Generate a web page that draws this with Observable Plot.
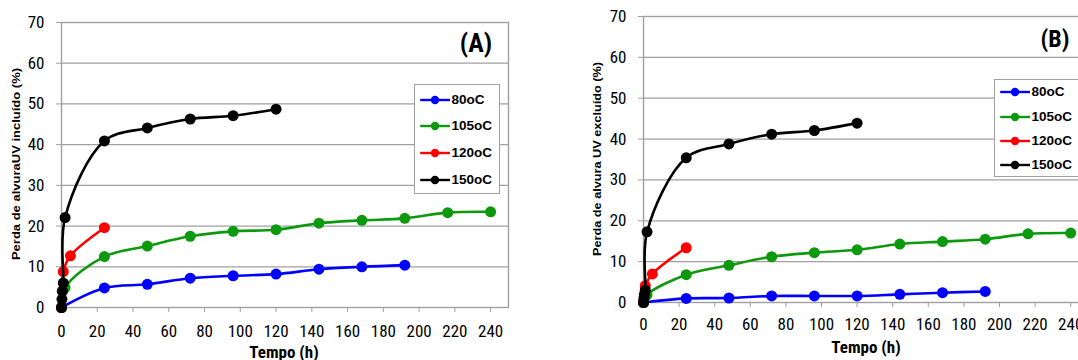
<!DOCTYPE html>
<html>
<head>
<meta charset="utf-8">
<script src="https://cdn.jsdelivr.net/npm/d3@7"></script>
<script src="https://cdn.jsdelivr.net/npm/@observablehq/plot@0.6"></script>
<style>
  html, body { margin: 0; padding: 0; background: #fff; }
  #wrap { position: relative; width: 1078px; height: 360px; overflow: hidden; background: #fff; }
  .panel { position: absolute; top: 0; }
  .xtitle { position: absolute; font-family: "Roboto Condensed", "Liberation Sans", sans-serif; font-weight: bold; font-size: 17px; line-height: 17px; white-space: nowrap; transform: translateX(-50%); color: #000; }
  .ytitle { position: absolute; font-family: "Liberation Sans", Arial, sans-serif; font-weight: bold; line-height: 1; white-space: nowrap; color: #000; transform: translate(-50%, -50%) scaleX(0.85) rotate(-90deg); }
  .tag { position: absolute; font-family: "Roboto Condensed", "Liberation Sans", sans-serif; font-weight: bold; line-height: 1; white-space: nowrap; color: #000; transform: translateX(-50%); }
  .legend { position: absolute; background: #fff; border: 1.5px solid #a0a0a0; box-sizing: border-box; }
  .legend .row { position: absolute; left: 0; height: 14px; }
  .legend .row svg { position: absolute; left: 0; top: 0; }
  .legend .row span { position: absolute; top: 0; font-family: "Liberation Sans", Arial, sans-serif; font-weight: bold; font-size: 13.5px; line-height: 14px; color: #000; white-space: nowrap; }
</style>
</head>
<body>
<div id="wrap"></div>
<script>
// ---- data ----
const seriesNames = ["80oC", "105oC", "120oC", "150oC"];
const seriesColors = ["#0000ff", "#0d990d", "#ff0000", "#000000"];
const xTicks = [0, 20, 40, 60, 80, 100, 120, 140, 160, 180, 200, 220, 240];
const yTicks = [0, 10, 20, 30, 40, 50, 60, 70];

// Panel A — Perda de alvuraUV incluído (%)
const tA80  = [0, 24, 48, 72, 96, 120, 144, 168, 192];
const vA80  = [0, 4.8, 5.7, 7.2, 7.8, 8.2, 9.4, 10.0, 10.4];
const tA105 = [0, 2, 24, 48, 72, 96, 120, 144, 168, 192, 216, 240];
const vA105 = [0, 4.9, 12.5, 15.1, 17.5, 18.7, 19.1, 20.7, 21.4, 21.9, 23.3, 23.5];
const tA120 = [0, 0.5, 1, 5, 24];
const vA120 = [0, 4.0, 8.8, 12.7, 19.6];
const tA150 = [0, 0.25, 0.5, 1, 2, 24, 48, 72, 96, 120];
const vA150 = [0, 2.0, 4.0, 6.0, 22.1, 40.9, 44.1, 46.3, 47.1, 48.7];

// Panel B — Perda de alvura UV excluído (%)
const tB80  = [0, 24, 48, 72, 96, 120, 144, 168, 192];
const vB80  = [0, 1.0, 1.1, 1.6, 1.6, 1.6, 2.0, 2.4, 2.7];
const tB105 = [0, 2, 24, 48, 72, 96, 120, 144, 168, 192, 216, 240];
const vB105 = [0, 1.9, 6.8, 9.1, 11.2, 12.2, 12.9, 14.3, 14.9, 15.5, 16.8, 17.0];
const tB120 = [0, 0.5, 1, 5, 24];
const vB120 = [0, 1.5, 4.1, 7.0, 13.4];
const tB150 = [0, 0.25, 0.5, 1, 2, 24, 48, 72, 96, 120];
const vB150 = [0, 1.0, 2.0, 3.0, 17.3, 35.4, 38.8, 41.2, 42.1, 43.9];

const titleA = "Perda de alvuraUV incluído (%)";
const titleB = "Perda de alvura UV excluído (%)";
const xTitle = "Tempo (h)";

// ---- helpers ----
function rows(name, ts, vs) { return ts.map((t, i) => ({s: name, t, v: vs[i]})); }
const dataA = [rows("80oC", tA80, vA80), rows("105oC", tA105, vA105), rows("120oC", tA120, vA120), rows("150oC", tA150, vA150)];
const dataB = [rows("80oC", tB80, vB80), rows("105oC", tB105, vB105), rows("120oC", tB120, vB120), rows("150oC", tB150, vB150)];

const gridColor = "#a0a0a0";
const tickFont = '"Roboto Condensed", "Liberation Sans", sans-serif';

function panel(data, o) {
  const marks = [
    Plot.gridY([10, 20, 30, 40, 50, 60], {stroke: gridColor, strokeOpacity: 1, strokeWidth: 1.3}),
    Plot.frame({stroke: gridColor, strokeWidth: 1.4}),
    Plot.axisX(xTicks, {tickSize: 5, tickPadding: o.xPad, stroke: gridColor, strokeOpacity: 1, fill: "#000", label: null}),
    Plot.axisY(yTicks, {tickSize: 5, tickPadding: 12, stroke: gridColor, strokeOpacity: 1, fill: "#000", label: null})
  ];
  for (const d of data) {
    marks.push(Plot.line(d, {x: "t", y: "v", stroke: "s", strokeWidth: 2.6, curve: "catmull-rom"}));
    marks.push(Plot.dot(d, {x: "t", y: "v", fill: "s", r: 5.5}));
  }
  return Plot.plot({
    width: o.width, height: 360,
    marginLeft: o.ml, marginRight: o.mr, marginTop: o.mt, marginBottom: o.mb,
    x: {domain: [0, 250]},
    y: {domain: [0, 70]},
    color: {domain: seriesNames, range: seriesColors},
    style: {fontFamily: tickFont, fontSize: "17px", color: "#000", background: "transparent", overflow: "visible"},
    marks
  });
}

const wrap = document.getElementById("wrap");

function place(el, left) { el.classList.add("panel"); el.style.left = left + "px"; wrap.appendChild(el); }

place(panel(dataA, {width: 540, ml: 61, mr: 32, mt: 22, mb: 53, xPad: 12}), 0);
place(panel(dataB, {width: 539, ml: 62, mr: 32, mt: 16, mb: 58, xPad: 10.5}), 581);

function div(cls, text, css) {
  const d = document.createElement("div");
  d.className = cls; d.textContent = text;
  Object.assign(d.style, css);
  wrap.appendChild(d);
  return d;
}

div("xtitle", xTitle, {left: "284px", top: "344px"});
div("xtitle", xTitle, {left: "866px", top: "338.5px"});
div("ytitle", titleA, {left: "15.8px", top: "163.7px", fontSize: "13px"});
div("ytitle", titleB, {left: "597.6px", top: "159px", fontSize: "12.7px"});
div("tag", "(A)", {left: "476px", top: "30px", fontSize: "26px"});
div("tag", "(B)", {left: "1055px", top: "27px", fontSize: "24px"});

function legend(left, top, width, height, firstY, step) {
  const box = document.createElement("div");
  box.className = "legend";
  Object.assign(box.style, {left: left + "px", top: top + "px", width: width + "px", height: height + "px"});
  seriesNames.forEach((name, i) => {
    const row = document.createElement("div");
    row.className = "row";
    row.style.top = (firstY + i * step - 7) + "px";
    row.style.width = width + "px";
    const ns = "http://www.w3.org/2000/svg";
    const svg = document.createElementNS(ns, "svg");
    svg.setAttribute("width", 40); svg.setAttribute("height", 14);
    const ln = document.createElementNS(ns, "line");
    ln.setAttribute("x1", 5.2); ln.setAttribute("x2", 35); ln.setAttribute("y1", 7); ln.setAttribute("y2", 7);
    ln.setAttribute("stroke", seriesColors[i]); ln.setAttribute("stroke-width", 2.4);
    const c = document.createElementNS(ns, "circle");
    c.setAttribute("cx", 20); c.setAttribute("cy", 7); c.setAttribute("r", 4.2);
    c.setAttribute("fill", seriesColors[i]);
    svg.appendChild(ln); svg.appendChild(c);
    const sp = document.createElement("span");
    sp.style.left = "37px";
    sp.textContent = name;
    row.appendChild(svg); row.appendChild(sp);
    box.appendChild(row);
  });
  wrap.appendChild(box);
}

legend(413.5, 83.5, 86, 110, 15, 26.7);
legend(993.5, 78.8, 100, 98, 12.5, 24.3);
</script>
</body>
</html>
